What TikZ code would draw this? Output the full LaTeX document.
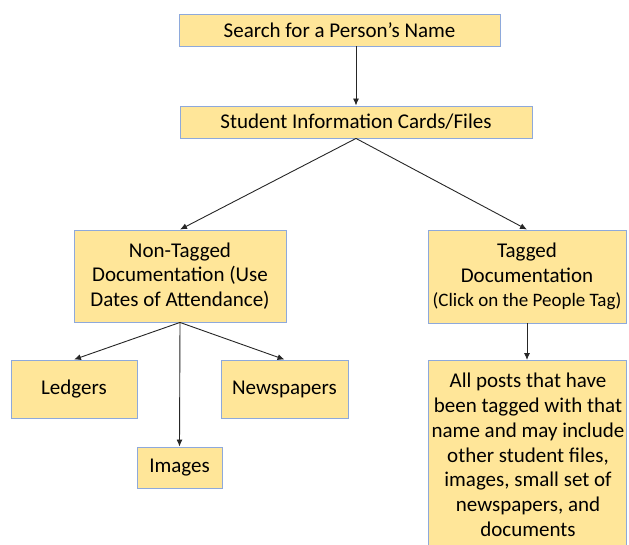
\documentclass[tikz,border=0pt]{standalone}
\usepackage{fontspec}
\setmainfont{Carlito}
\usepackage{tikz}
\usetikzlibrary{arrows.meta,positioning,calc}
\definecolor{boxfill}{HTML}{FFE699}
\definecolor{boxline}{HTML}{8EA9DB}

\begin{document}
\begin{tikzpicture}[x=1pt,y=-1pt,
  box/.style={draw=boxline,fill=boxfill,line width=0.9pt,inner sep=0pt,
    align=center,font=\fontsize{21}{24.8}\selectfont},
  link/.style={draw=black!85,line width=0.9pt,-{Latex[length=7pt,width=6pt]}}]
% ==========================================
\useasboundingbox (0,0) rectangle (629,545);
\clip (0,0) rectangle (629,545);
%
\node (search) at (339.5,30) [box,minimum width=321pt,minimum height=32pt] {Search for a Person’s Name};
\node (cards) at (356,122) [box,minimum width=352pt,minimum height=32pt] {Student Information Cards/Files};
%
\draw[link] (cards.north |- search.south) -- (cards.north);
%
\node (untagged) at (180,276) [box,minimum width=212pt,minimum height=92pt] {
Non-Tagged\\Documentation (Use\\Dates of Attendance)
};
\node (tagged) at (527,276.5) [box,minimum width=198pt,minimum height=93pt] {
Tagged\\Documentation\\{\fontsize{19}{22}\selectfont(Click on the People Tag)}
};
%
\draw[link] (cards.south) -- (untagged.north);
\draw[link] (cards.south) -- (tagged.north);
%
\node (ledgers) at (74,389) [box,minimum width=126pt,minimum height=58pt] {Ledgers};
\node (papers) at (284.5,389) [box,minimum width=127pt,minimum height=58pt] {Newspapers};
\node (images) at (179.5,467.5) [box,minimum width=85pt,minimum height=41pt] {Images};
%
\draw[link] (untagged.south) -- (ledgers.north);
\draw[link] (untagged.south) -- (images.north);
\draw[link] (untagged.south) -- (papers.north);
%
\node (posts) at (527,360) [box,anchor=north,minimum width=198pt,minimum height=200pt] {};
\node (poststext) at (528,373) [anchor=north,inner sep=0pt,align=center,font=\fontsize{21}{24.8}\selectfont] {
All posts that have\\been tagged with that\\name and may include\\other student files,\\images, small set of\\newspapers, and\\documents
};
%
\draw[link] (tagged.south) -- (posts.north);
% =============================================
\end{tikzpicture}
\end{document}
